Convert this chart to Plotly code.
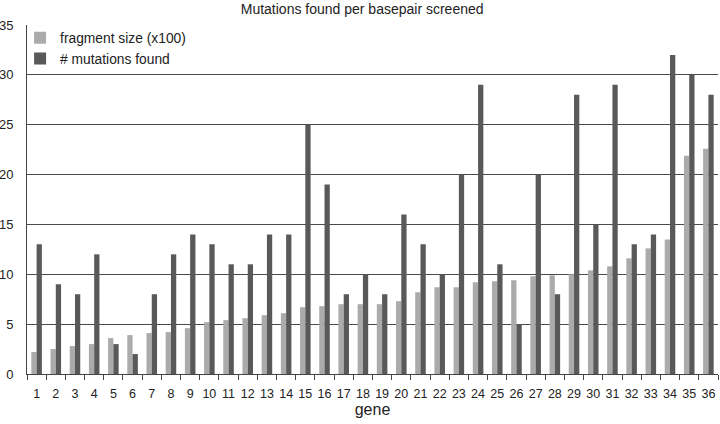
import plotly.graph_objects as go

genes = [str(i) for i in range(1, 37)]
fragment_size = [2.2, 2.5, 2.8, 3.0, 3.6, 3.9, 4.1, 4.2, 4.6, 5.2, 5.4, 5.6,
                 5.9, 6.1, 6.7, 6.8, 7.0, 7.0, 7.0, 7.3, 8.2, 8.7, 8.7, 9.2,
                 9.3, 9.4, 9.8, 9.9, 10.0, 10.4, 10.8, 11.6, 12.6, 13.5, 21.9, 22.6]
mutations = [13, 9, 8, 12, 3, 2, 8, 12, 14, 13, 11, 11,
             14, 14, 25, 19, 8, 10, 8, 16, 13, 10, 20, 29,
             11, 5, 20, 8, 28, 15, 29, 13, 14, 32, 30, 28]

fig = go.Figure()
fig.add_trace(go.Bar(x=genes, y=fragment_size, name="fragment size (x100)",
                     marker={'color': '#ababab', 'line': {'width': 0}}))
fig.add_trace(go.Bar(x=genes, y=mutations, name="# mutations found",
                     marker={'color': '#595959', 'line': {'width': 0}}))

fig.update_layout(
    width=720, height=424,
    margin={'l': 27, 'r': 2, 't': 25, 'b': 50},
    paper_bgcolor='white', plot_bgcolor='white',
    font={'family': 'Liberation Sans, Arial, sans-serif', 'size': 13, 'color': '#222'},
    title={'text': "Mutations found per basepair screened", 'x': 0.503, 'xanchor': 'center',
           'y': 0.99, 'yanchor': 'top', 'font': {'size': 14}},
    barmode='group', bargap=0.45, bargroupgap=0,
    showlegend=True,
    legend={'x': -0.01, 'y': 1.008, 'xanchor': 'left', 'yanchor': 'top',
            'bgcolor': 'rgba(0,0,0,0)', 'font': {'size': 13.8},
            'tracegroupgap': 0},
    xaxis={'title': {'text': 'gene', 'standoff': 2}, 'showline': True, 'linecolor': '#444',
           'ticks': 'outside', 'tickson': 'boundaries', 'ticklen': 5, 'tickcolor': '#444',
           'tickangle': 0, 'tickfont': {'size': 12.5}, 'automargin': False,
           'ticklabelstandoff': 8, 'showgrid': False, 'range': [-0.5, 35.5]},
    yaxis={'range': [0, 35], 'dtick': 5, 'showline': True, 'linecolor': '#444',
           'showgrid': True, 'gridcolor': '#4a4a4a', 'gridwidth': 1, 'ticks': '',
           'zeroline': False, 'ticklabelstandoff': 10, 'automargin': False},
)

# drop the browser's default page margin so the figure sits at the window's corner
fig.write_html("out.html", config={'displayModeBar': False},
               post_script="document.body.style.margin='0';")
